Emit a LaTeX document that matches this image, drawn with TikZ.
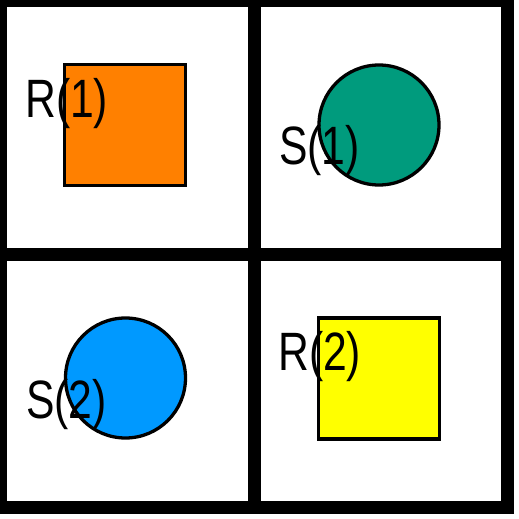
\documentclass[tikz,border=0pt]{standalone}
\usepackage{fontspec}
\newfontfamily\lblfont[FakeStretch=0.79]{Liberation Sans}
\usetikzlibrary{positioning, calc}

\definecolor{rorange}{HTML}{FF8000}
\definecolor{steal}{HTML}{009B7D}
\definecolor{sblue}{HTML}{0099FF}
\definecolor{ryellow}{HTML}{FFFF00}

\begin{document}
\begin{tikzpicture}[
  x=1pt, y=-1pt,
  %--- panel and shape styles ---
  panel/.style={fill=white, draw=none},
  rsq/.style={
    draw=black, rectangle, line width=3.3pt,
    minimum size=121pt, inner sep=0pt
  },
  scirc/.style={
    draw=black, circle, line width=3.3pt,
    minimum size=120pt, inner sep=0pt
  },
  lbl/.style={
    font=\lblfont\fontsize{54}{54}\selectfont,
    anchor=base west, inner sep=0pt, text=black
  }
]

%------------------------------------------------------------------
%  Frame and the four panels
%------------------------------------------------------------------
\useasboundingbox (0,0) rectangle (519,519);
\fill[white] (0,0) rectangle (519,519);
\fill[black] (0,0) rectangle (514,514);

\fill[panel] (7,7)     rectangle (248,248);
\fill[panel] (261,7)   rectangle (501,248);
\fill[panel] (7,261)   rectangle (248,501);
\fill[panel] (261,261) rectangle (501,501);

%------------------------------------------------------------------
%  Shapes
%------------------------------------------------------------------
\node[rsq,   fill=rorange] (r1) at (125,125)   {};
\node[scirc, fill=steal]   (s1) at (379,125)   {};
\node[scirc, fill=sblue]   (s2) at (125.5,378) {};
\node[rsq,   fill=ryellow] (r2) at (379,378.5) {};

%------------------------------------------------------------------
%  Labels
%------------------------------------------------------------------
\node[lbl] (r1lbl) at (25,117)  {R(1)};
\node[lbl] (s1lbl) at (279,164) {S(1)};
\node[lbl] (s2lbl) at (26,418)  {S(2)};
\node[lbl] (r2lbl) at (278,370) {R(2)};

\end{tikzpicture}
\end{document}
